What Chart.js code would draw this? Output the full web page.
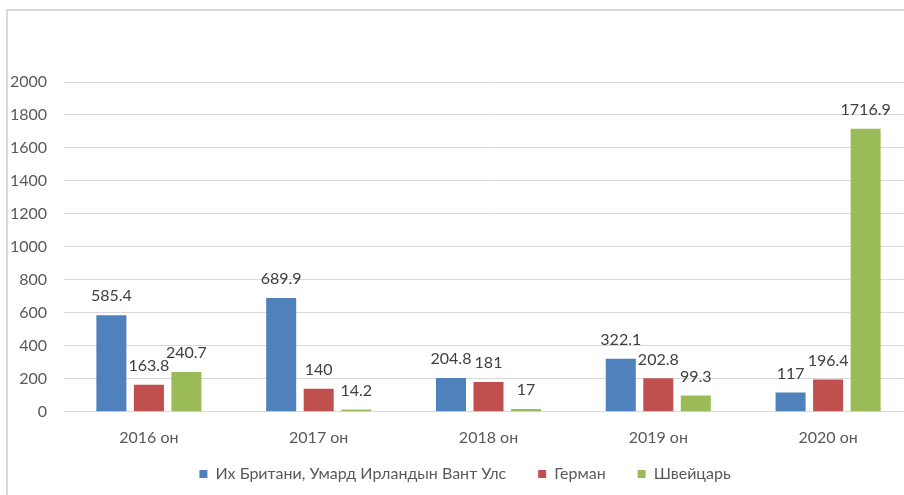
<!DOCTYPE html>
<html>
<head>
<meta charset="utf-8">
<script src="https://cdn.jsdelivr.net/npm/chart.js@4/dist/chart.umd.min.js"></script>
<style>
  html, body { margin: 0; padding: 0; background: #fff; overflow: hidden; width: 904px; height: 495px; }
  #frame { position: absolute; left: 6px; top: 9px; width: 1000px; height: 600px; border: 2px solid #d9d9d9; }
  #wrap { position: absolute; left: 0; top: 0; width: 916px; height: 521px; }
</style>
</head>
<body>
<div id="frame"></div>
<div id="wrap"><canvas id="bar-chart"></canvas></div>
<script>
// Bar chart
// ------------------------------
const years = ["2016 он", "2017 он", "2018 он", "2019 он", "2020 он"];
const seriesNames = ["Их Британи, Умард Ирландын Вант Улс", "Герман", "Швейцарь"];
const ukValues = [585.4, 689.9, 204.8, 322.1, 117];
const germanyValues = [163.8, 140, 181, 202.8, 196.4];
const swissValues = [240.7, 14.2, 17, 99.3, 1716.9];
const yTicks = [0, 200, 400, 600, 800, 1000, 1200, 1400, 1600, 1800, 2000];
const barColors = ['#4F81BD', '#C0504D', '#9BBB59'];

const fontFamily = 'Lato, "Noto Sans", sans-serif';

// values written above every bar
const valueLabels = {
    id: 'valueLabels',
    afterDatasetsDraw(chart) {
        const ctx = chart.ctx;
        ctx.save();
        ctx.font = '16px ' + fontFamily;
        ctx.fillStyle = '#404040';
        ctx.textAlign = 'center';
        ctx.textBaseline = 'middle';
        chart.data.datasets.forEach(function(ds, i) {
            chart.getDatasetMeta(i).data.forEach(function(bar, j) {
                ctx.fillText(String(ds.data[j]), bar.x, bar.y - 19);
            });
        });
        ctx.restore();
    }
};

// legend sits left of the canvas centre and tucked up under the axis labels
const legendShift = {
    id: 'legendShift',
    afterLayout(chart) {
        const lg = chart.legend;
        const dx = 465 - (lg.left + lg.right) / 2;
        lg.left += dx;
        lg.right += dx;
        const dy = 434 - lg.top;
        lg.top += dy;
        lg.bottom += dy;
    }
};

var ctx = document.getElementById('bar-chart');

var chartData = {
    labels: years,
    datasets: [ukValues, germanyValues, swissValues].map(function(vals, i) {
        return {
            label: seriesNames[i],
            data: vals,
            backgroundColor: barColors[i],
            borderWidth: 0,
            categoryPercentage: 0.663,
            barPercentage: 0.8
        };
    })
};

var chartOptions = {
    responsive: true,
    maintainAspectRatio: false,
    animation: false,
    layout: { padding: { top: 82, left: 0, right: 3, bottom: 0 } },
    plugins: {
        tooltip: { enabled: false },
        legend: {
            position: 'bottom',
            labels: {
                boxWidth: 8,
                boxHeight: 8,
                padding: 32,
                color: '#595959',
                font: { family: fontFamily, size: 16 }
            }
        }
    },
    scales: {
        x: {
            grid: { display: false, drawTicks: false },
            border: { display: false },
            ticks: { color: '#595959', padding: 16, font: { family: fontFamily, size: 16 } }
        },
        y: {
            min: 0,
            max: 2000,
            grid: { color: '#d9d9d9', lineWidth: 1, drawTicks: false },
            border: { display: false },
            ticks: {
                color: '#595959',
                padding: 17,
                font: { family: fontFamily, size: 16 },
                callback: function(v) { return String(v); }
            },
            afterBuildTicks: function(scale) {
                scale.ticks = yTicks.map(function(v) { return { value: v }; });
            },
            afterFit: function(scale) { scale.width = 64; }
        }
    }
};

var config = {
    type: 'bar',
    options: chartOptions,
    data: chartData,
    plugins: [valueLabels, legendShift]
};

var barChart = new Chart(ctx, config);
</script>
</body>
</html>
